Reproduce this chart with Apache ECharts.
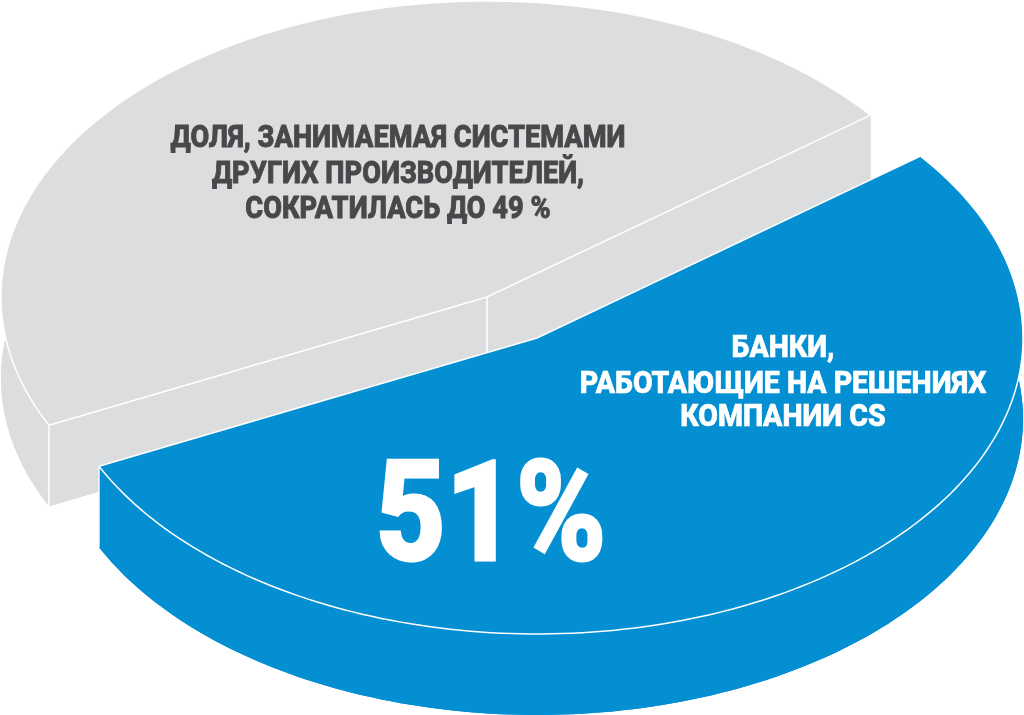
<!DOCTYPE html>
<html><head><meta charset="utf-8">
<style>html,body{margin:0;padding:0;background:#fff}#c{width:1024px;height:715px}</style>
<script src="https://cdn.jsdelivr.net/npm/echarts@6/dist/echarts.min.js"></script>
</head><body><div id="c"></div>
<script>
// Slices
const categories = ['Другие производители', 'Банки на решениях CS'];
const statedPercent = [49, 51];          // figures printed in the chart
const drawnSweepShare = [46.6, 53.4];    // share of the ring each slice occupies as drawn in the picture
const sliceColors = ['#dcddde', '#038fd2'];
// Captions
const greyCaption = ['ДОЛЯ, ЗАНИМАЕМАЯ СИСТЕМАМИ', 'ДРУГИХ ПРОИЗВОДИТЕЛЕЙ,', 'СОКРАТИЛАСЬ ДО ' + statedPercent[0] + ' %'];
const blueCaption = ['БАНКИ,', 'РАБОТАЮЩИЕ НА РЕШЕНИЯХ', 'КОМПАНИИ CS'];
const bigLabel = statedPercent[1] + '%';

// Layout of the tilted disc
const CX = 487, CY = 297, RX = 486, RY = 296, DEPTH = 81;
const START_DEG = -37.9;
const EXPLODE = [[0, 0], [50, 41]];

function ring(t, o) { return [CX + o[0] + RX * Math.cos(t), CY + o[1] + RY * Math.sin(t)]; }

function renderSlice(params, api) {
  const i = params.dataIndex;
  const o = EXPLODE[i];
  let before = 0;
  for (let k = 0; k < i; k++) before += drawnSweepShare[k];
  const toRad = Math.PI / 180;
  const a0 = (START_DEG - before * 3.6) * toRad;
  const a1 = a0 - api.value(1) * 3.6 * toRad;
  const arc = [];
  const steps = 160;
  for (let s = 0; s <= steps; s++) arc.push(ring(a0 + (a1 - a0) * s / steps, o));
  const down = p => [p[0], p[1] + DEPTH];
  const c = [CX + o[0], CY + o[1]];
  const fill = sliceColors[i];
  const line = { stroke: '#fff', lineWidth: 1.5, fill: null };
  const poly = (pts, style) => ({ type: 'polygon', shape: { points: pts }, style: style });
  const pl = (pts) => ({ type: 'polyline', shape: { points: pts }, style: line });
  const first = arc[0], last = arc[arc.length - 1];
  const leftCorner = i === 0 ? last : first;
  const children = [
    poly(arc.concat([c]).map(down), { fill: fill }),
    poly(arc.concat(arc.slice().reverse().map(down)), { fill: fill }),
    poly([c, first, down(first), down(c)], { fill: fill }),
    poly([c, last, down(last), down(c)], { fill: fill }),
    poly(arc.concat([c]), { fill: fill }),
    pl([first, c, last]),
    pl(arc),
    pl([leftCorner, down(leftCorner)])
  ];
  if (i === 0) children.push(pl([c, down(c)]));
  return { type: 'group', children: children };
}

function caption(lines, cx, ys, size, sx, color, weight) {
  return lines.map((t, i) => ({
    type: 'text', x: cx, y: ys[i], scaleX: sx, z: 100,
    style: { text: t, fill: color, stroke: color, lineWidth: weight, font: '800 ' + size + 'px Roboto', textAlign: 'center', textVerticalAlign: 'middle' }
  }));
}

const chart = echarts.init(document.getElementById('c'), null, { renderer: 'canvas' });
chart.setOption({
  animation: false,
  backgroundColor: '#fff',
  series: [{
    type: 'custom',
    coordinateSystem: 'none',
    renderItem: renderSlice,
    silent: true,
    data: categories.map((n, i) => [n, drawnSweepShare[i], i])
  }],
  graphic: { elements: []
    .concat(caption(greyCaption, 398, [139, 175, 210], 32, 0.85, '#47484a', 0.9))
    .concat(caption(blueCaption, 783, [349, 385, 418], 31, 0.92, '#ffffff', 0.7))
    .concat(caption([bigLabel], 491, [525], 140, 0.87, '#ffffff', 3)) }
});
</script></body></html>
